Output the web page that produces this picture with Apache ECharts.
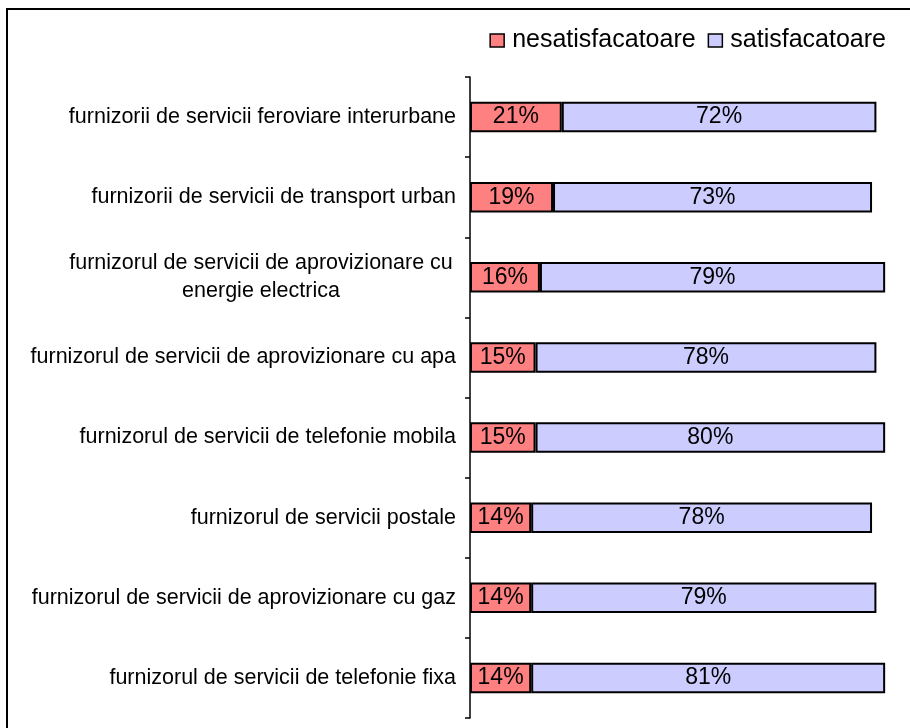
<!DOCTYPE html>
<html>
<head>
<meta charset="utf-8">
<script src="https://cdn.jsdelivr.net/npm/echarts@6/dist/echarts.min.js"></script>
<style>
  html, body { margin: 0; padding: 0; background: #fff; }
  #chart { width: 910px; height: 728px; }
</style>
</head>
<body>
<div id="chart"></div>
<script>
// categories, top to bottom
const categories = [
    'furnizorii de servicii feroviare interurbane',
    'furnizorii de servicii de transport urban',
    'furnizorul de servicii de aprovizionare cu\nenergie electrica',
    'furnizorul de servicii de aprovizionare cu apa',
    'furnizorul de servicii de telefonie mobila',
    'furnizorul de servicii postale',
    'furnizorul de servicii de aprovizionare cu gaz',
    'furnizorul de servicii de telefonie fixa'
];
const nesatisfacatoare = [21, 19, 16, 15, 15, 14, 14, 14];
const satisfacatoare = [72, 73, 79, 78, 80, 78, 79, 81];
const seriesNames = ['nesatisfacatoare', 'satisfacatoare'];

const chart = echarts.init(document.getElementById('chart'));

function barSeries(name, data, color) {
    return {
        name: name,
        type: 'bar',
        stack: 'total',
        barWidth: '38%',
        data: data,
        itemStyle: {
            color: color,
            borderColor: '#000',
            borderWidth: 2
        },
        label: {
            show: true,
            position: 'inside',
            formatter: '{c}%',
            color: '#000',
            fontFamily: 'Liberation Sans',
            fontSize: 23
        },
        emphasis: { disabled: true }
    };
}

chart.setOption({
    animation: false,
    textStyle: { fontFamily: 'Liberation Sans' },
    graphic: [{
        type: 'rect',
        shape: { x: 7, y: 9, width: 920, height: 740 },
        style: { fill: 'none', stroke: '#000', lineWidth: 2 },
        silent: true
    }],
    legend: {
        data: seriesNames,
        top: 23,
        right: 19,
        itemWidth: 14,
        itemHeight: 13,
        itemGap: 12,
        icon: 'rect',
        itemStyle: { borderColor: '#000', borderWidth: 1.5 },
        textStyle: { fontSize: 25, color: '#000', fontFamily: 'Liberation Sans', padding: [0, 0, 0, 3] }
    },
    grid: {
        left: 470,
        right: 3,
        top: 77,
        bottom: 10,
        containLabel: false
    },
    xAxis: {
        type: 'value',
        min: 0,
        max: 100,
        show: false
    },
    yAxis: {
        type: 'category',
        data: categories,
        inverse: true,
        axisLine: { show: true, lineStyle: { color: '#000', width: 1.5 } },
        axisTick: { show: true, length: 5, lineStyle: { color: '#000', width: 1.5 } },
        axisLabel: {
            margin: 14,
            color: '#000',
            fontSize: 21.5,
            fontFamily: 'Liberation Sans',
            formatter: function (v) {
                if (v.indexOf('\n') < 0) return v;
                return v.split('\n').map(function (l) { return '{c|' + l + '}'; }).join('\n');
            },
            rich: {
                c: { width: 390, align: 'center', fontSize: 21.5, lineHeight: 28, color: '#000', fontFamily: 'Liberation Sans' }
            }
        }
    },
    series: [
        barSeries(seriesNames[0], nesatisfacatoare, '#FF8080'),
        barSeries(seriesNames[1], satisfacatoare, '#CCCCFF')
    ]
});
</script>
</body>
</html>
